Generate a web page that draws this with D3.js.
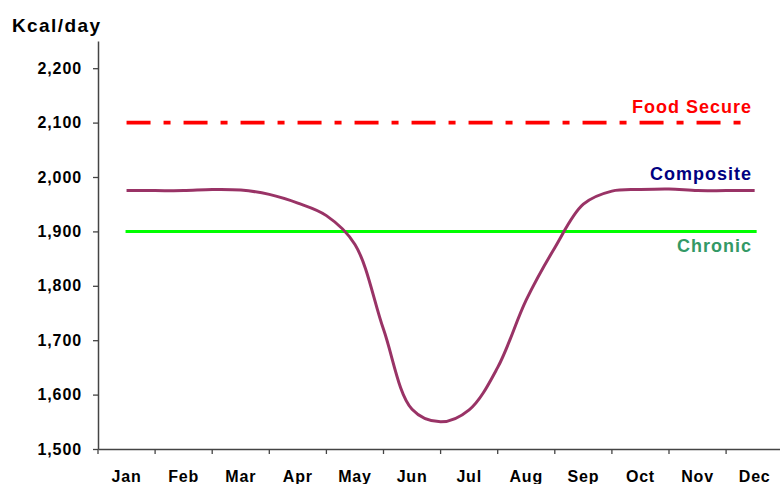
<!DOCTYPE html>
<html>
<head>
<meta charset="utf-8">
<script src="https://cdn.jsdelivr.net/npm/d3@7"></script>
<style>
    body { margin: 0; background: #fff; }
    text { font-family: "Liberation Sans", Arial, sans-serif; font-weight: bold; }
</style>
</head>
<body>
<svg id="chart" width="780" height="484"></svg>
<script>
// chart data
const months = ["Jan", "Feb", "Mar", "Apr", "May", "Jun", "Jul", "Aug", "Sep", "Oct", "Nov", "Dec"];
// composite read at half-month steps (0 = mid Jan ... 11 = mid Dec)
const compositeSteps = [0, 0.5, 1, 1.5, 2, 2.5, 3, 3.5, 4, 4.5, 5, 5.5, 6, 6.5, 7, 7.5, 8, 8.5, 9, 9.5, 10, 10.5, 11];
const compositeValues = [1975, 1975, 1975, 1977, 1976, 1968, 1952, 1929, 1876, 1720, 1573, 1550, 1572, 1650, 1774, 1870, 1950, 1974, 1977, 1978, 1975, 1975, 1975];
const foodSecure = 2100;
const chronic = 1900;
const yTicks = [1500, 1600, 1700, 1800, 1900, 2000, 2100, 2200];

const svg = d3.select("#chart");

const x = d3.scaleBand()
    .domain(months)
    .range([98, 783.2]);
const y = d3.scaleLinear()
    .domain([1500, 2250])
    .range([449, 41]);

// fractional month position -> pixel (centres of the month bands)
const xPos = d3.scaleLinear()
    .domain([0, months.length - 1])
    .range([x(months[0]) + x.bandwidth() / 2, x(months[months.length - 1]) + x.bandwidth() / 2]);

// y axis
const yAxis = svg.append("g")
    .attr("transform", "translate(98,0)")
    .call(d3.axisLeft(y).tickValues(yTicks).tickFormat(d3.format(",")).tickSize(5).tickSizeOuter(0).tickPadding(11));
yAxis.select(".domain").attr("stroke", "#444").attr("stroke-width", 1.5);
yAxis.selectAll(".tick line").attr("stroke", "#444").attr("stroke-width", 1.3);
yAxis.selectAll(".tick text")
    .attr("fill", "#000")
    .style("font-size", "16px")
    .style("letter-spacing", "0.9px");

// x axis: labels in band centres, ticks on band boundaries
const xAxis = svg.append("g")
    .attr("transform", "translate(0,449)")
    .call(d3.axisBottom(x).tickSize(0).tickPadding(22));
xAxis.select(".domain").attr("stroke", "#444").attr("stroke-width", 1.5);
xAxis.selectAll(".tick text")
    .attr("fill", "#000")
    .style("font-size", "16px")
    .style("letter-spacing", "0.8px");
xAxis.selectAll(".boundary")
    .data(months)
    .enter().append("line")
    .attr("class", "boundary")
    .attr("x1", d => x(d)).attr("x2", d => x(d))
    .attr("y1", 0).attr("y2", 5)
    .attr("stroke", "#444").attr("stroke-width", 1.3);

// y title
svg.append("text")
    .attr("x", 12).attr("y", 31.5)
    .style("font-size", "19px")
    .style("letter-spacing", "1.4px")
    .text("Kcal/day");

// reference lines
svg.append("line")
    .attr("x1", xPos(0) - 1).attr("x2", xPos(11) + 2)
    .attr("y1", y(chronic)).attr("y2", y(chronic))
    .attr("stroke", "#00ff00").attr("stroke-width", 3);

svg.append("line")
    .attr("x1", xPos(0)).attr("x2", xPos(11) - 12)
    .attr("y1", y(foodSecure)).attr("y2", y(foodSecure))
    .attr("stroke", "#ff0000").attr("stroke-width", 3.8)
    .attr("stroke-dasharray", "24,13,7,13");

// composite line
const line = d3.line()
    .x(d => xPos(d[0]))
    .y(d => y(d[1]))
    .curve(d3.curveCatmullRom.alpha(0.5));

svg.append("path")
    .datum(d3.zip(compositeSteps, compositeValues))
    .attr("d", line)
    .attr("fill", "none")
    .attr("stroke", "#993366")
    .attr("stroke-width", 3);

// series labels
const labels = [
    { text: "Food Secure", y: 113, color: "#ff0000" },
    { text: "Composite", y: 180, color: "#000080" },
    { text: "Chronic", y: 252, color: "#339966" }
];
svg.selectAll(".series-label")
    .data(labels)
    .enter().append("text")
    .attr("class", "series-label")
    .attr("x", 752)
    .attr("y", d => d.y)
    .attr("text-anchor", "end")
    .attr("fill", d => d.color)
    .style("font-size", "18px")
    .style("letter-spacing", "1px")
    .text(d => d.text);
</script>
</body>
</html>
